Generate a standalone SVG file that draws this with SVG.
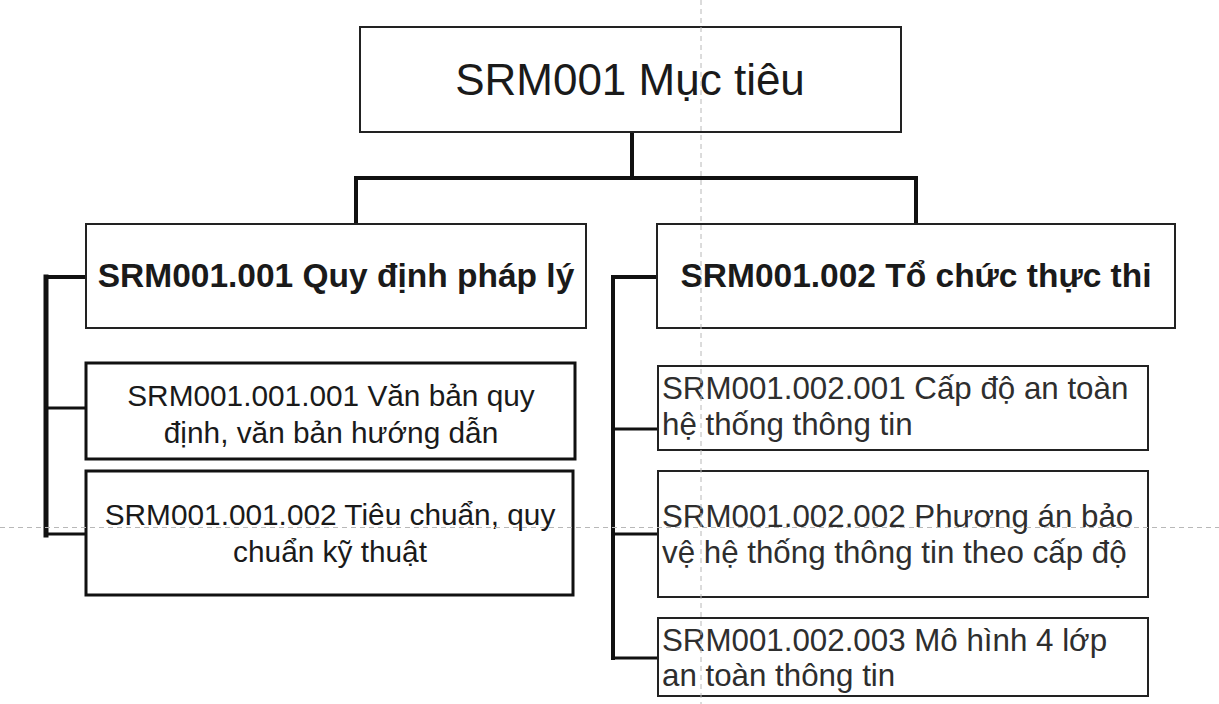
<svg xmlns="http://www.w3.org/2000/svg" width="1219" height="704" viewBox="0 0 1219 704">
  <style>
    text { font-family: "Liberation Sans", Arial, sans-serif; fill: #1a1a1a; }
    .box { fill: #ffffff; stroke: #222222; stroke-width: 2; }
    .box3 { fill: #ffffff; stroke: #111111; stroke-width: 3; }
    .title { font-size: 44px; text-anchor: middle; }
    .bold { font-size: 33.5px; font-weight: bold; text-anchor: middle; }
    .subl { font-size: 29.8px; text-anchor: middle; }
    .subr { font-size: 31.3px; fill: #2e2e2e; }
    .conn { fill: none; stroke: #111111; stroke-linecap: square; }
    .guide { stroke: #b8b8b8; stroke-width: 1; stroke-dasharray: 5 4; fill: none; }
  </style>
  <rect x="0" y="0" width="1219" height="704" fill="#ffffff"/>

  <g id="connectors">
    <path class="conn" stroke-width="4" d="M632 132 V178 M356 178 H916 M356 178 V224 M916 178 V224"/>
    <path class="conn" stroke-width="5" d="M46 277 V535"/>
    <path class="conn" stroke-width="4" d="M46 277 H86"/>
    <path class="conn" stroke-width="3" d="M46 408 H86 M46 534 H86"/>
    <path class="conn" stroke-width="4" d="M613 277 V658"/>
    <path class="conn" stroke-width="4" d="M613 277 H657"/>
    <path class="conn" stroke-width="3" d="M613 429 H658 M613 534 H658 M613 658 H658"/>
  </g>

  <g id="n-srm001">
    <rect class="box" x="360" y="27" width="541" height="105"/>
    <text class="title" x="630" y="95">SRM001 Mục tiêu</text>
  </g>

  <g id="n-srm001-001">
    <rect class="box" x="86" y="224" width="500" height="104"/>
    <text class="bold" x="336" y="287">SRM001.001 Quy định pháp lý</text>
  </g>

  <g id="n-srm001-002">
    <rect class="box" x="657" y="224" width="518" height="104"/>
    <text class="bold" x="916" y="287">SRM001.002 Tổ chức thực thi</text>
  </g>

  <g id="n-srm001-001-001">
    <rect class="box3" x="86" y="363" width="489" height="96"/>
    <text class="subl" x="331" y="406">SRM001.001.001 Văn bản quy</text>
    <text class="subl" x="331" y="443">định, văn bản hướng dẫn</text>
  </g>

  <g id="n-srm001-001-002">
    <rect class="box3" x="86" y="471" width="487" height="124"/>
    <text class="subl" x="330" y="525">SRM001.001.002 Tiêu chuẩn, quy</text>
    <text class="subl" x="330" y="562">chuẩn kỹ thuật</text>
  </g>

  <g id="n-srm001-002-001">
    <rect class="box" x="658" y="366" width="490" height="84"/>
    <text class="subr" x="662" y="399">SRM001.002.001 Cấp độ an toàn</text>
    <text class="subr" x="662" y="435">hệ thống thông tin</text>
  </g>

  <g id="n-srm001-002-002">
    <rect class="box" x="658" y="471" width="490" height="126"/>
    <text class="subr" x="662" y="527">SRM001.002.002 Phương án bảo</text>
    <text class="subr" x="662" y="563">vệ hệ thống thông tin theo cấp độ</text>
  </g>

  <g id="n-srm001-002-003">
    <rect class="box" x="658" y="618" width="490" height="78"/>
    <text class="subr" x="662" y="651">SRM001.002.003 Mô hình 4 lớp</text>
    <text class="subr" x="662" y="686">an toàn thông tin</text>
  </g>

  <g id="guides">
    <path class="guide" d="M701 0 V704"/>
    <path class="guide" d="M0 527.5 H1219"/>
  </g>
</svg>
